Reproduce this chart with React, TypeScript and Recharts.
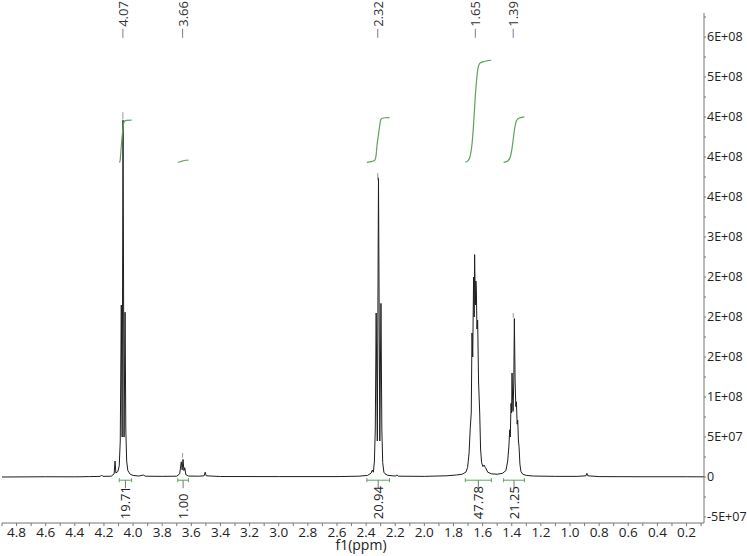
import { ComposedChart, Line, XAxis, YAxis, ReferenceLine, ReferenceDot } from 'recharts';

// 1H spectrum (ppm, intensity in millions)
const spectrumPpm = [
  4.9, 4.6, 4.4, 4.3, 4.225, 4.216, 4.207, 4.15, 4.13, 4.124, 4.118, 4.104, 4.095, 4.088,
  4.081, 4.075, 4.069, 4.062, 4.055, 4.05, 4.044, 4.036, 4.02, 4.0, 3.96, 3.93, 3.915, 3.8,
  3.7, 3.68, 3.669, 3.663, 3.657, 3.651, 3.645, 3.638, 3.62, 3.55, 3.512, 3.505, 3.498, 3.4,
  3.0, 2.6, 2.45, 2.39, 2.365, 2.358, 2.35, 2.343, 2.337, 2.331, 2.323, 2.315, 2.306, 2.298,
  2.292, 2.286, 2.278, 2.27, 2.25, 2.2, 2.188, 2.178, 2.0, 1.85, 1.78, 1.74, 1.715, 1.703,
  1.693, 1.685, 1.678, 1.673, 1.668, 1.662, 1.658, 1.655, 1.65, 1.646, 1.643, 1.639, 1.634,
  1.628, 1.62, 1.614, 1.607, 1.598, 1.59, 1.582, 1.575, 1.565, 1.54, 1.5, 1.465, 1.44, 1.428,
  1.419, 1.414, 1.41, 1.405, 1.401, 1.398, 1.394, 1.391, 1.386, 1.382, 1.377, 1.372, 1.368,
  1.363, 1.359, 1.354, 1.35, 1.344, 1.337, 1.325, 1.3, 1.25, 1.1, 0.95, 0.89, 0.884, 0.878,
  0.8, 0.5, 0.2, 0.08,
];
const intensityMillions = [
  0, 0.3, 0.2, 0.5, 0.8, 2.5, 0.8, 1, 4, 20, 5, 7, 14, 45,
  215, 50, 446, 50, 206, 60, 20, 8, 3.5, 2, 1.2, 2.5, 1, 0.8,
  1, 4, 19, 9, 22, 8, 11.6, 3, 1.2, 1, 1.5, 6, 1.5, 0.6,
  0.5, 0.5, 1, 2, 5, 8.7, 6, 20, 60, 205, 45, 374, 45, 217,
  60, 18, 6, 4, 2, 1.2, 2.5, 1, 0.8, 1.5, 2.5, 3.5, 6, 12,
  30, 61, 80, 180, 150, 250, 200, 278, 215, 245, 234, 185, 196,
  120, 80, 35, 18, 13, 15, 12, 10, 6, 4, 3.5, 4.5, 8, 20,
  40, 59, 50, 92, 80, 130, 96, 82, 120, 198, 120, 88, 94,
  66, 71, 45, 38, 16, 7, 3.5, 2, 1.2, 0.8, 0.8, 1.5, 4.6, 1.5,
  0.5, 0.3, 0.3, 0.2,
];

// picked peaks
const peakShifts = [4.07, 3.66, 2.32, 1.65, 1.39];
const peakMarkTop = [456, 30, 380, 0, 205];
const peakMarkBottom = [447, 24, 371, 0, 199];

// integration regions
const integralStart = [4.095, 3.693, 2.395, 1.719, 1.456];
const integralEnd = [4.01, 3.62, 2.239, 1.54, 1.313];
const integralValues = [19.71, 1.0, 20.94, 47.78, 21.25];

// integral curves (ppm, running integral)
const curveA = [[4.095, 0], [4.09, 0.4], [4.085, 4], [4.078, 10], [4.07, 15.5], [4.064, 18.4], [4.057, 19.3], [4.045, 19.6], [4.01, 19.71]];
const curveB = [[3.693, 0], [3.675, 0.25], [3.662, 0.6], [3.65, 0.85], [3.635, 0.96], [3.62, 1.0]];
const curveC = [[2.395, 0], [2.36, 0.4], [2.34, 1.0], [2.332, 3], [2.325, 8], [2.315, 13], [2.307, 17], [2.3, 19.8], [2.29, 20.6], [2.27, 20.85], [2.239, 20.94]];
const curveD = [[1.719, 0], [1.7, 0.8], [1.685, 3], [1.672, 9], [1.662, 18], [1.652, 29], [1.642, 38], [1.632, 44], [1.62, 46.3], [1.6, 47], [1.57, 47.5], [1.54, 47.78]];
const curveE = [[1.456, 0], [1.43, 0.5], [1.41, 2.5], [1.398, 6.5], [1.39, 10.8], [1.382, 15], [1.372, 18.6], [1.36, 20.2], [1.345, 20.8], [1.313, 21.25]];
const integralCurves = [curveA, curveB, curveC, curveD, curveE];

// axis ticks
const xTickLabels = ['4.8', '4.6', '4.4', '4.2', '4.0', '3.8', '3.6', '3.4', '3.2', '3.0', '2.8', '2.6', '2.4', '2.2', '2.0', '1.8', '1.6', '1.4', '1.2', '1.0', '0.8', '0.6', '0.4', '0.2'];
const yTickLabels = ['-5E+07', '0', '5E+07', '1E+08', '2E+08', '2E+08', '2E+08', '3E+08', '4E+08', '4E+08', '4E+08', '5E+08', '6E+08'];

const xTicks = Array.from({ length: 49 }, (_, i) => Math.round((4.9 - i * 0.1) * 10) / 10);
const yTicks = Array.from({ length: 26 }, (_, i) => -5e7 + i * 2.5e7);

const GREEN = '#5fa15f';
const AXIS = '#777';

const spectrum = spectrumPpm.map((ppm, i) => ({ ppm, v: intensityMillions[i] * 1e6 }));

const PeakLabel = (text: string) => (props: any) => {
  const { cx, cy } = props;
  const ty = cy - 11;
  return (
    <g>
      <line x1={cx} y1={cy} x2={cx} y2={cy - 9} stroke="#7a7a9c" />
      <text x={cx} y={ty} transform={`rotate(-90 ${cx} ${ty})`} textAnchor="start" dominantBaseline="central" fontSize={13} fill="#333">
        {text}
      </text>
    </g>
  );
};

const IntegralLabel = (text: string) => (props: any) => {
  const { cx, cy } = props;
  const ty = cy + 39;
  return (
    <g>
      <line x1={cx} y1={cy} x2={cx} y2={cy + 8} stroke="#777" />
      <text x={cx} y={ty} transform={`rotate(-90 ${cx} ${ty})`} textAnchor="start" dominantBaseline="central" fontSize={13} fill="#222">
        {text}
      </text>
    </g>
  );
};

export default function App() {
  const bracketY = -4e6;
  return (
    <div style={{ position: 'absolute', left: 0, top: 0, fontFamily: '"Open Sans", sans-serif', background: '#fff' }}>
      <ComposedChart width={747} height={556} margin={{ top: 13, right: 0, bottom: 0, left: 2 }}>
        <XAxis
          dataKey="ppm"
          type="number"
          domain={[0.08, 4.9]}
          reversed
          allowDataOverflow
          ticks={xTicks}
          interval={0}
          tickFormatter={(v: number) => (xTickLabels.includes(v.toFixed(1)) ? v.toFixed(1) : '')}
          tickSize={3}
          tickMargin={1}
          height={33}
          stroke={AXIS}
          tick={{ fill: '#222', fontSize: 13.5 }}
          label={{ value: 'f1(ppm)', position: 'bottom', offset: -16, dx: 8, fontSize: 14, fill: '#222' }}
        />
        <YAxis
          yAxisId="main"
          orientation="right"
          type="number"
          domain={[-5.75e7, 5.8e8]}
          allowDataOverflow
          ticks={yTicks}
          interval={0}
          tickFormatter={(v: number) => {
            const i = Math.round((v + 5e7) / 2.5e7);
            return i % 2 === 0 ? yTickLabels[i / 2] : '';
          }}
          tickSize={2}
          tickMargin={1}
          width={43}
          stroke={AXIS}
          tick={{ fill: '#222', fontSize: 12.5 }}
        />
        <YAxis yAxisId="int" hide type="number" domain={[-168.9, 69.9]} allowDataOverflow />

        <Line
          yAxisId="main"
          data={spectrum}
          dataKey="v"
          type="linear"
          stroke="#1e1e1e"
          strokeWidth={1}
          dot={false}
          isAnimationActive={false}
        />

        {integralCurves.map((c, k) => (
          <Line
            key={`int-${k}`}
            yAxisId="int"
            data={c.map(([ppm, val]) => ({ ppm, val }))}
            dataKey="val"
            type="monotone"
            stroke={GREEN}
            strokeWidth={1.2}
            dot={false}
            isAnimationActive={false}
          />
        ))}

        {peakShifts.map((p, k) =>
          peakMarkTop[k] > 0 ? (
            <ReferenceLine
              key={`pm-${k}`}
              yAxisId="main"
              segment={[{ x: p, y: peakMarkTop[k] * 1e6 }, { x: p, y: peakMarkBottom[k] * 1e6 }]}
              stroke="#999"
            />
          ) : null
        )}

        {peakShifts.map((p, k) => (
          <ReferenceDot key={`pl-${k}`} yAxisId="main" x={p} y={5.49e8} r={0} shape={PeakLabel(p.toFixed(2))} />
        ))}

        {integralStart.map((a, k) => {
          const b = integralEnd[k];
          return [
            <ReferenceLine key={`br-${k}`} yAxisId="main" segment={[{ x: a, y: bracketY }, { x: b, y: bracketY }]} stroke={GREEN} />,
            <ReferenceLine key={`bl-${k}`} yAxisId="main" segment={[{ x: a, y: bracketY + 2.5e6 }, { x: a, y: bracketY - 2.5e6 }]} stroke={GREEN} />,
            <ReferenceLine key={`bq-${k}`} yAxisId="main" segment={[{ x: b, y: bracketY + 2.5e6 }, { x: b, y: bracketY - 2.5e6 }]} stroke={GREEN} />,
            <ReferenceDot
              key={`il-${k}`}
              yAxisId="main"
              x={(a + b) / 2}
              y={bracketY}
              r={0}
              shape={IntegralLabel(integralValues[k].toFixed(2))}
            />,
          ];
        })}
      </ComposedChart>
    </div>
  );
}
